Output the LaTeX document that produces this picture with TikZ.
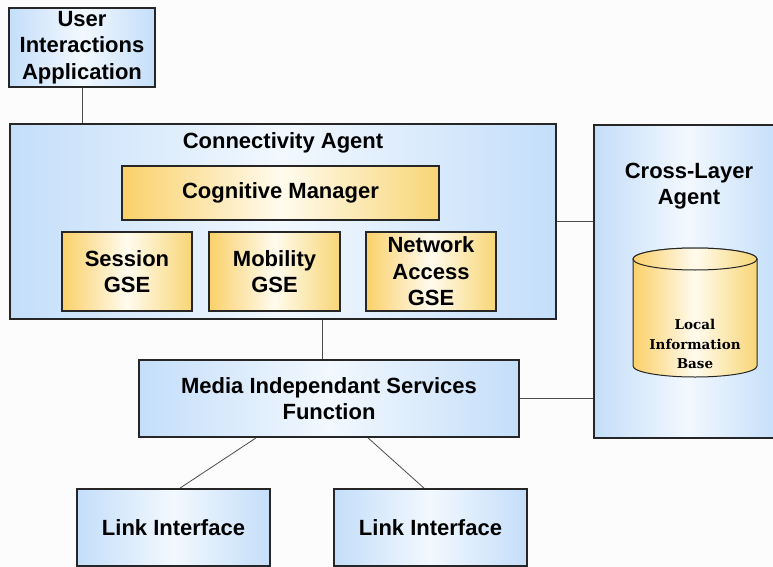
\documentclass[tikz,border=0pt]{standalone}
\usepackage{fontspec}
\setmainfont{Liberation Sans}
\newfontfamily\libfont{DejaVu Serif}
\begin{document}
\begin{tikzpicture}[x=1pt,y=-1pt,
  bluebox/.style={draw=black!85, line width=1.8pt, left color=blueE, right color=blueE, middle color=blueM, inner sep=0pt, align=center, font=\fontsize{22}{26.5}\selectfont\bfseries, text=black},
  yelbox/.style={draw=black!85, line width=1.8pt, left color=yelE, right color=yelR, middle color=yelM, inner sep=0pt, align=center, font=\fontsize{22}{26.5}\selectfont\bfseries, text=black},
  conn/.style={draw=black!70, line width=0.8pt},
  title/.style={align=center, font=\fontsize{22}{26.5}\selectfont\bfseries, text=black, inner sep=0pt}]
\definecolor{blueE}{RGB}{196,222,250}
\definecolor{blueM}{RGB}{242,248,254}
\definecolor{yelE}{RGB}{250,208,105}
\definecolor{yelR}{RGB}{248,214,118}
\definecolor{yelM}{RGB}{255,251,238}
\definecolor{bg}{RGB}{252,252,252}
\useasboundingbox (0,0) rectangle (773,567);
\clip (0,0) rectangle (773,567);
\fill[bg] (0,0) rectangle (773,567);

% boxes
\node[bluebox, minimum width=146pt, minimum height=79pt] (uia) at (82,47.5) {User\\Interactions\\Application};
\node[bluebox, minimum width=546pt, minimum height=195pt] (ca) at (283,221.5) {};
\node[title] (catitle) at (283,143) {Connectivity Agent};
\node[yelbox, minimum width=317pt, minimum height=54pt] (cm) at (280.5,193) {Cognitive Manager};
\node[yelbox, minimum width=130pt, minimum height=79pt] (sgse) at (127,271.5) {Session\\GSE};
\node[yelbox, minimum width=131pt, minimum height=79pt] (mgse) at (274.5,271.5) {Mobility\\GSE};
\node[yelbox, minimum width=130pt, minimum height=79pt] (nagse) at (431,271.5) {Network\\Access\\GSE};
\node[bluebox, minimum width=186pt, minimum height=313pt] (cla) at (687,281.5) {};
\node[title] (clatitle) at (689,186) {Cross-Layer\\Agent};
\node[bluebox, minimum width=380pt, minimum height=77pt] (misf) at (329,398.5) {Media Independant Services\\Function};
\node[bluebox, minimum width=193pt, minimum height=77pt] (li1) at (173.5,527.5) {Link Interface};
\node[bluebox, minimum width=193pt, minimum height=77pt] (li2) at (430.5,527.5) {Link Interface};

% cylinder
\path[left color=yelE, right color=yelR, middle color=yelM, draw=black!85, line width=1pt]
  (633,259) -- (633,366) arc[start angle=180, end angle=0, x radius=62, y radius=11] -- (757,259)
  arc[start angle=0, end angle=-180, x radius=62, y radius=11] -- cycle;
\path[left color=yelE, right color=yelR, middle color=yelM, draw=black!85, line width=1pt]
  (695,259) ellipse[x radius=62, y radius=11];
\node[align=center, inner sep=0pt, font=\libfont\fontsize{13.5}{19.5}\selectfont\bfseries, text=black] (lib) at (695,344) {Local\\Information\\Base};

% connectors
\draw[conn] (uia.south) -- (uia.south |- ca.north);
\draw[conn] (ca.east) -- (ca.east -| cla.west);
\draw[conn] (322,0 |- ca.south) -- (322,0 |- misf.north);
\draw[conn] (misf.east) -- (misf.east -| cla.west);
\draw[conn] (256,0 |- misf.south) -- (180,0 |- li1.north);
\draw[conn] (368,0 |- misf.south) -- (424,0 |- li2.north);
\end{tikzpicture}
\end{document}
